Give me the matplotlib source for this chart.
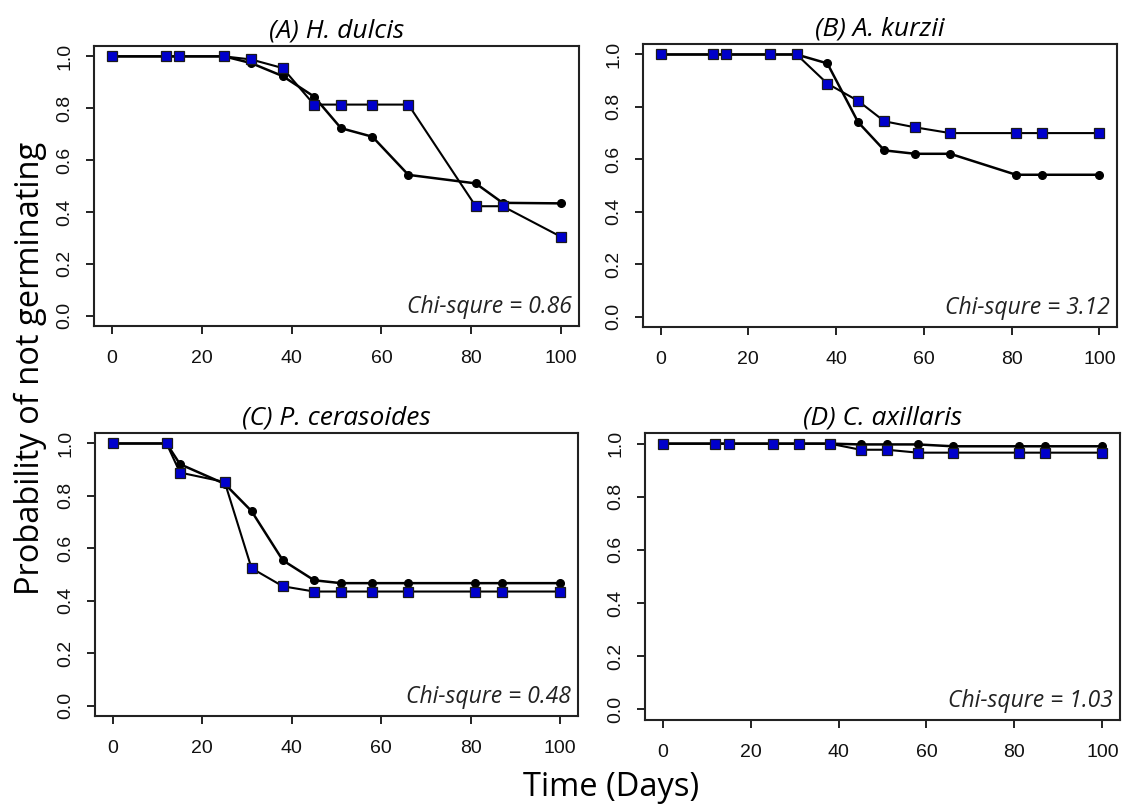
import matplotlib
matplotlib.use("Agg")
import matplotlib.pyplot as plt

days = [0, 12, 15, 25, 31, 38, 45, 51, 58, 66, 81, 87, 100]

titles = ["(A) H. dulcis", "(B) A. kurzii", "(C) P. cerasoides", "(D) C. axillaris"]
chi_labels = ["Chi-squre = 0.86", "Chi-squre = 3.12", "Chi-squre = 0.48", "Chi-squre = 1.03"]

black_A = [1.0, 1.0, 1.0, 1.0, 0.974, 0.924, 0.845, 0.723, 0.690, 0.543, 0.510, 0.435, 0.433]
blue_A = [1.0, 1.0, 1.0, 1.0, 0.988, 0.955, 0.814, 0.814, 0.814, 0.814, 0.422, 0.422, 0.304]

black_B = [1.0, 1.0, 1.0, 1.0, 1.0, 0.966, 0.742, 0.634, 0.621, 0.621, 0.541, 0.541, 0.541]
blue_B = [1.0, 1.0, 1.0, 1.0, 1.0, 0.889, 0.823, 0.745, 0.722, 0.700, 0.700, 0.700, 0.700]

black_C = [1.0, 1.0, 0.921, 0.846, 0.742, 0.554, 0.478, 0.467, 0.467, 0.467, 0.467, 0.467, 0.467]
blue_C = [1.0, 1.0, 0.889, 0.853, 0.524, 0.455, 0.435, 0.435, 0.435, 0.435, 0.435, 0.435, 0.435]

black_D = [1.0, 1.0, 1.0, 1.0, 1.0, 1.0, 0.997, 0.997, 0.997, 0.990, 0.990, 0.990, 0.990]
blue_D = [1.0, 1.0, 1.0, 1.0, 1.0, 1.0, 0.977, 0.977, 0.966, 0.966, 0.966, 0.966, 0.966]

black_series = [black_A, black_B, black_C, black_D]
blue_series = [blue_A, blue_B, blue_C, blue_D]

x_ticks = [0, 20, 40, 60, 80, 100]
y_ticks = [0.0, 0.2, 0.4, 0.6, 0.8, 1.0]

fig = plt.figure(figsize=(11.41, 8.08), dpi=100)
W, H = 1141, 808
boxes = [  # left, top, right, bottom in pixels
    (94, 46, 579, 326),
    (643, 44, 1117, 327),
    (95, 433, 578, 716),
    (645, 433, 1120, 720),
]

text_font = ["Open Sans", "DejaVu Sans"]
tick_font = ["Liberation Sans", "DejaVu Sans"]

for i, (l, t, r, b) in enumerate(boxes):
    ax = fig.add_axes([l / W, 1 - b / H, (r - l) / W, (b - t) / H])
    ax.plot(days, black_series[i], color="black", lw=1.8, marker="o", ms=5.5,
            mfc="black", mec="black", zorder=3)
    ax.plot(days, blue_series[i], color="black", lw=1.5, marker="s", ms=7,
            mfc="#0000cc", mec="#1a1a1a", mew=0.9, zorder=4)
    ax.set_xlim(-4, 104)
    ax.set_ylim(-0.04, 1.04)
    ax.set_xticks(x_ticks)
    ax.set_yticks(y_ticks)
    ax.set_xticklabels([str(v) for v in x_ticks], fontfamily=tick_font, fontsize=14)
    ax.set_yticklabels(["%.1f" % v for v in y_ticks], fontfamily=tick_font, fontsize=14,
                       rotation=90, va="center")
    ax.tick_params(direction="out", length=6, width=1.3, colors="#111111")
    ax.tick_params(axis="x", pad=11)
    ax.tick_params(axis="y", pad=9)
    for s in ax.spines.values():
        s.set_linewidth(1.5)
        s.set_color("#222222")
    ax.set_title(titles[i], fontfamily=text_font, fontstyle="italic", fontsize=19, pad=6)
    ax.text(0.985, 0.025, chi_labels[i], transform=ax.transAxes, ha="right", va="bottom",
            fontfamily=text_font, fontstyle="italic", fontsize=16.5, color="#222222")

fig.text(30 / W, 1 - 368 / H, "Probability of not germinating", rotation=90,
         ha="center", va="center", fontfamily=text_font, fontsize=23.5)
fig.text(611 / W, 1 - 787 / H, "Time (Days)", ha="center", va="center",
         fontfamily=text_font, fontsize=23.5)

fig.savefig("out.png", dpi=100)
